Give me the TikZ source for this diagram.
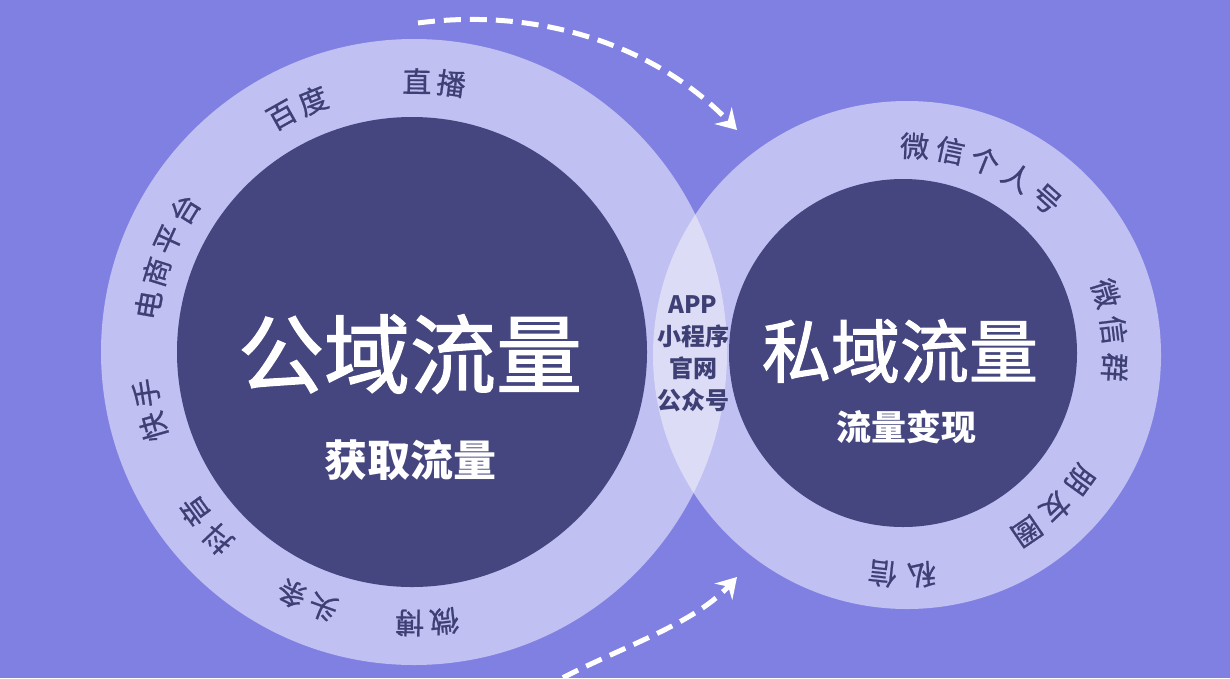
\documentclass[tikz,border=0pt]{standalone}
\usepackage{fontspec}
\newfontfamily\cjk{Noto Sans CJK SC}
\newfontfamily\cjkmed[FakeBold=0.8]{Noto Sans CJK SC}
\newfontfamily\cjktitle[FakeBold=1.6]{Noto Sans CJK SC}
\usetikzlibrary{calc,arrows.meta}
\definecolor{bgc}{HTML}{7F80E2}
\definecolor{ringc}{HTML}{C0C0F2}
\definecolor{corec}{HTML}{45467F}
\definecolor{lensc}{HTML}{DCDCF6}
\definecolor{txtc}{HTML}{3E3F74}
\newcommand{\arclabel}[6]{%
  \foreach \ch [count=\i] in {#6} {%
    \pgfmathsetmacro{\ang}{#3-(\i-1)*#4}%
    \node[ringtxt, rotate=\ang-90] (#5\i) at ($(#1)+(\ang:#2)$) {\ch};
  }}
\begin{document}
\begin{tikzpicture}[x=1pt,y=1pt,
  ringtxt/.style={inner sep=0pt, text=txtc, font=\cjkmed\fontsize{29}{30}\selectfont},
  bigtxt/.style={inner sep=0pt, text=white},
  arrowline/.style={draw=white, line width=5pt, dash pattern=on 17pt off 9pt,
     -{Stealth[length=20pt,width=24pt,inset=7pt]}}
  ]
\clip (0,0) rectangle (1230,-678);
\fill[bgc] (0,0) rectangle (1230,-678);
\coordinate (L) at (414,-352);
\coordinate (R) at (907,-355);
\coordinate (Ri) at (903,-353);
% outer rings
\fill[ringc] (L) circle[radius=313];
\fill[ringc] (R) circle[radius=254];
% lens
\begin{scope}
  \clip (L) circle[radius=313];
  \fill[lensc] (R) circle[radius=254];
\end{scope}
% cores
\fill[corec] (412,-352) circle[radius=235];
\fill[corec] (Ri) circle[radius=174];
% main texts
\node[bigtxt, font=\cjktitle\fontsize{86}{90}\selectfont] (pub) at (410,-354) {公域流量};
\node[bigtxt, font=\cjk\bfseries\fontsize{43}{45}\selectfont] (pubsub) at (410,-460) {获取流量};
\node[bigtxt, font=\cjktitle\fontsize{69}{72}\selectfont] (pri) at (900,-351) {私域流量};
\node[bigtxt, font=\cjk\bfseries\fontsize{35}{37}\selectfont] (prisub) at (906,-427) {流量变现};
% lens text
\node[inner sep=0pt, text=txtc, align=center, font=\cjk\bfseries\fontsize{24}{32}\selectfont] (lens) at (693,-354) {APP\\小程序\\官网\\公众号};
% left ring labels
\arclabel{L}{271}{89.4}{7.3}{la}{直,播}
\arclabel{L}{271}{119.2}{7.3}{lb}{百,度}
\arclabel{L}{270}{170.0}{7.3}{lc}{电,商,平,台}
\arclabel{L}{271}{196.0}{7.3}{ld}{快,手}
\arclabel{L}{271}{223.6}{7.6}{le}{抖,音}
\arclabel{L}{271}{250.4}{7.3}{lf}{头,条}
\arclabel{L}{271}{276.4}{7.3}{lg}{微,博}
% right ring labels
\arclabel{R}{209}{87.9}{9.9}{ra}{微,信,个,人,号}
\arclabel{R}{208}{17.2}{10.3}{rb}{微,信,群}
\arclabel{R}{213}{-35.8}{10.0}{rc}{朋,友,圈}
\arclabel{R}{220}{273.8}{10.2}{rd}{私,信}
% arrows
\coordinate (a1s) at (418,-23);
\coordinate (a1e) at (737,-130);
\draw[arrowline] (a1s) .. controls (530,-8) and (650,-40) .. (a1e);
\coordinate (a2s) at (540,-690);
\coordinate (a2e) at (737,-577);
\draw[arrowline] (a2s) .. controls (610,-650) and (690,-628) .. (a2e);
\end{tikzpicture}
\end{document}
